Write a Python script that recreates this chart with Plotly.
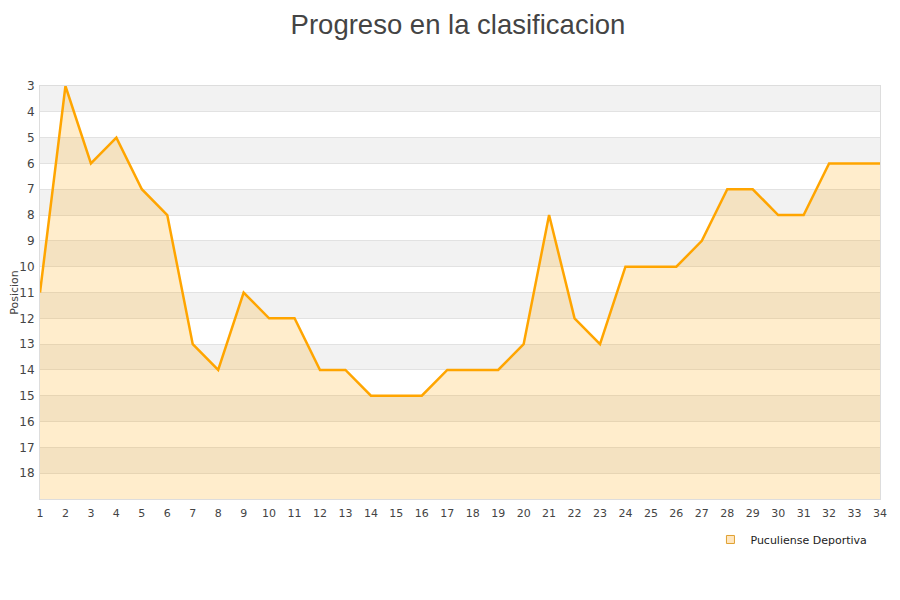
import plotly.graph_objects as go

jornadas = list(range(1, 35))
posiciones = [11, 3, 6, 5, 7, 8, 13, 14, 11, 12, 12, 14, 14, 15, 15, 15, 14, 14,
              14, 13, 8, 12, 13, 10, 10, 10, 9, 7, 7, 8, 8, 6, 6, 6]
equipo = "Puculiense Deportiva"
y_top, y_bottom = 3, 19

fig = go.Figure()

# baseline for the area fill (bottom of the reversed axis)
fig.add_trace(go.Scatter(x=jornadas, y=[y_bottom] * len(jornadas), mode="lines",
                         line=dict(width=0), showlegend=False, hoverinfo="skip"))
fig.add_trace(go.Scatter(x=jornadas, y=posiciones, mode="lines", fill="tonexty",
                         fillcolor="rgba(255,165,0,0.2)",
                         line=dict(color="#ffa500", width=2.5),
                         name=equipo, showlegend=False))
# legend entry as a small square
fig.add_trace(go.Scatter(x=[None], y=[None], mode="markers", name=equipo,
                         marker=dict(symbol="square", size=8, color="#ffe6bf",
                                     line=dict(color="#e0a030", width=1))))

# alternating horizontal bands
for k in range(y_top, y_bottom, 2):
    fig.add_shape(type="rect", xref="paper", x0=0, x1=1, yref="y", y0=k, y1=k + 1,
                  fillcolor="#f2f2f2", line=dict(width=0), layer="below")

fig.update_layout(
    width=900, height=600,
    title=dict(text="Progreso en la clasificacion", x=0.5, y=0.973, xanchor="center",
               yanchor="middle",
               font=dict(family="Liberation Sans, Arial, sans-serif", size=27.5, color="#444")),
    plot_bgcolor="white", paper_bgcolor="white",
    margin=dict(l=32, r=28, t=78, b=109),
    font=dict(family="DejaVu Sans, sans-serif", size=11, color="#444"),
    legend=dict(x=0.991, y=-0.098, xanchor="right", yanchor="middle",
                font=dict(size=11, color="#222"), bgcolor="rgba(0,0,0,0)"),
)
fig.update_xaxes(range=[1, 34], tickmode="linear", tick0=1, dtick=1, showgrid=False,
                 showline=True, linecolor="#ddd", zeroline=False, ticks="", mirror=True,
                 automargin=False, ticklabelstandoff=4)
fig.update_yaxes(range=[y_bottom, y_top], tickmode="array",
                 tickvals=list(range(3, 19)), showgrid=True, gridcolor="#e2e2e2",
                 showline=True, linecolor="#ddd", mirror=True, zeroline=False,
                 automargin=False, tickfont=dict(size=12), ticklabelstandoff=2,
                 title=dict(text="Posicion", standoff=2, font=dict(size=11)))

fig.write_html("out.html")
